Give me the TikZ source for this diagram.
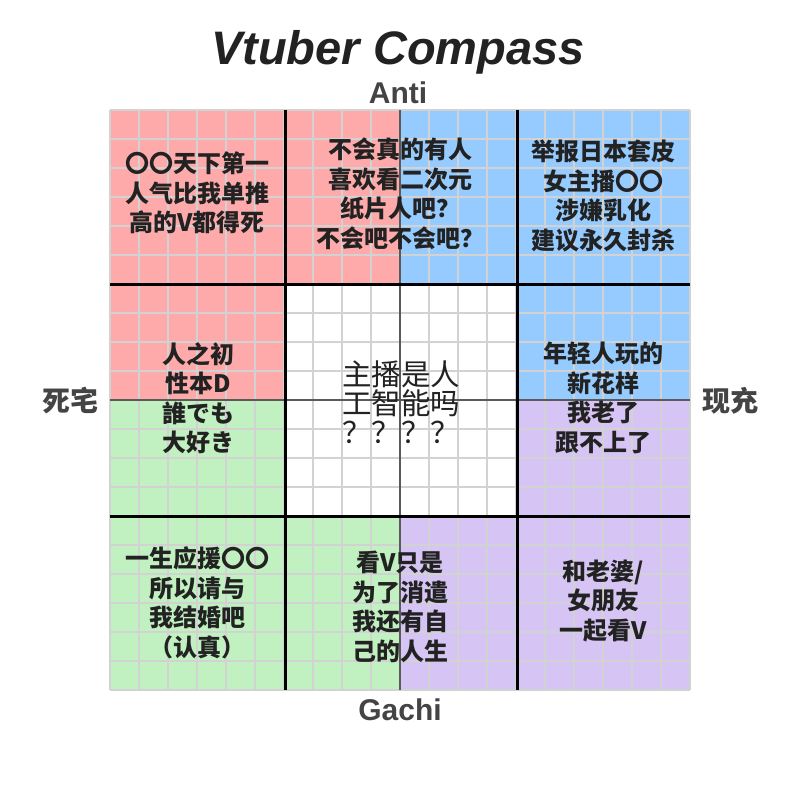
\documentclass[tikz,border=0pt]{standalone}
\usepackage{fontspec}
\setmainfont{Liberation Sans}
\newfontfamily\cjkq{Noto Sans CJK SC}
\newfontfamily\cjkc{Noto Sans CJK SC}
\definecolor{qred}{HTML}{FFAAAA}
\definecolor{qblue}{HTML}{96CBFF}
\definecolor{qgreen}{HTML}{C1F0C1}
\definecolor{qpurple}{HTML}{D6C4F4}
\definecolor{gridc}{HTML}{D2D2D2}
\definecolor{midc}{HTML}{5A5A5A}
\definecolor{txt}{HTML}{222222}
\definecolor{axc}{HTML}{444444}
\begin{document}
\begin{tikzpicture}[x=1pt,y=-1pt,
  gridline/.style={draw=gridc,line width=1.8pt},
  midline/.style={draw=midc,line width=2.5pt},
  thickline/.style={draw=black,line width=3pt},
  qtext/.style={inner sep=0pt,align=center,text=txt,font=\cjkq\bfseries\fontsize{24}{29.5}\selectfont},
  axlabel/.style={inner sep=0pt,text=axc,font=\bfseries\fontsize{30}{30}\selectfont},
  sidelabel/.style={inner sep=0pt,text=axc,font=\cjkq\bfseries\fontsize{28}{28}\selectfont}]
\useasboundingbox (0,0) rectangle (800,800);
\fill[white] (0,0) rectangle (800,800);
% quadrants
\fill[qred] (110,110) rectangle (400,400);
\fill[qblue] (400,110) rectangle (690,400);
\fill[qgreen] (110,400) rectangle (400,690);
\fill[qpurple] (400,400) rectangle (690,690);
\fill[white] (285,284) rectangle (517,516);
% fine grid
\foreach \i in {0,...,20} {
  \draw[gridline] ({110+29*\i},110) -- ({110+29*\i},690);
  \draw[gridline] (110,{110+29*\i}) -- (690,{110+29*\i});
}
% mid axes
\draw[midline] (400,110) -- (400,690);
\draw[midline] (110,400) -- (690,400);
% thick lines
\draw[thickline] (285,110) -- (285,690);
\draw[thickline] (517,110) -- (517,690);
\draw[thickline] (110,284) -- (690,284);
\draw[thickline] (110,516) -- (690,516);
% labels
\node[anchor=base,inner sep=0pt,text=txt,font=\bfseries\itshape\fontsize{47}{47}\selectfont] (title) at (398,65) {Vtuber Compass};
\node[axlabel,anchor=base] (anti) at (398,103) {Anti};
\node[axlabel,anchor=base] (gachi) at (400,720) {Gachi};
\node[sidelabel] (left) at (70,401) {死宅};
\node[sidelabel] (right) at (730,401) {现充};
% quadrant texts
\node[qtext] (tl) at (197,193) {〇〇天下第一\\人气比我单推\\高的V都得死};
\node[qtext] (tc) at (400,194) {不会真的有人\\喜欢看二次元\\纸片人吧？\\不会吧不会吧？};
\node[qtext] (tr) at (603,196) {举报日本套皮\\女主播〇〇\\涉嫌乳化\\建议永久封杀};
\node[qtext] (ml) at (198,398) {人之初\\性本D\\誰でも\\大好き};
\node[qtext] (mr) at (603,398) {年轻人玩的\\新花样\\我老了\\跟不上了};
\node[qtext] (bl) at (197,603) {一生应援〇〇\\所以请与\\我结婚吧\\（认真）};
\node[qtext] (bc) at (400,607) {看V只是\\为了消遣\\我还有自\\己的人生};
\node[qtext] (br) at (603,601) {和老婆/\\女朋友\\一起看V};
\node[inner sep=0pt,align=center,text=txt,font=\cjkc\fontsize{29.5}{29}\selectfont] (ctr) at (401,402) {主播是人\\工智能吗\\？？？？};
\end{tikzpicture}
\end{document}
